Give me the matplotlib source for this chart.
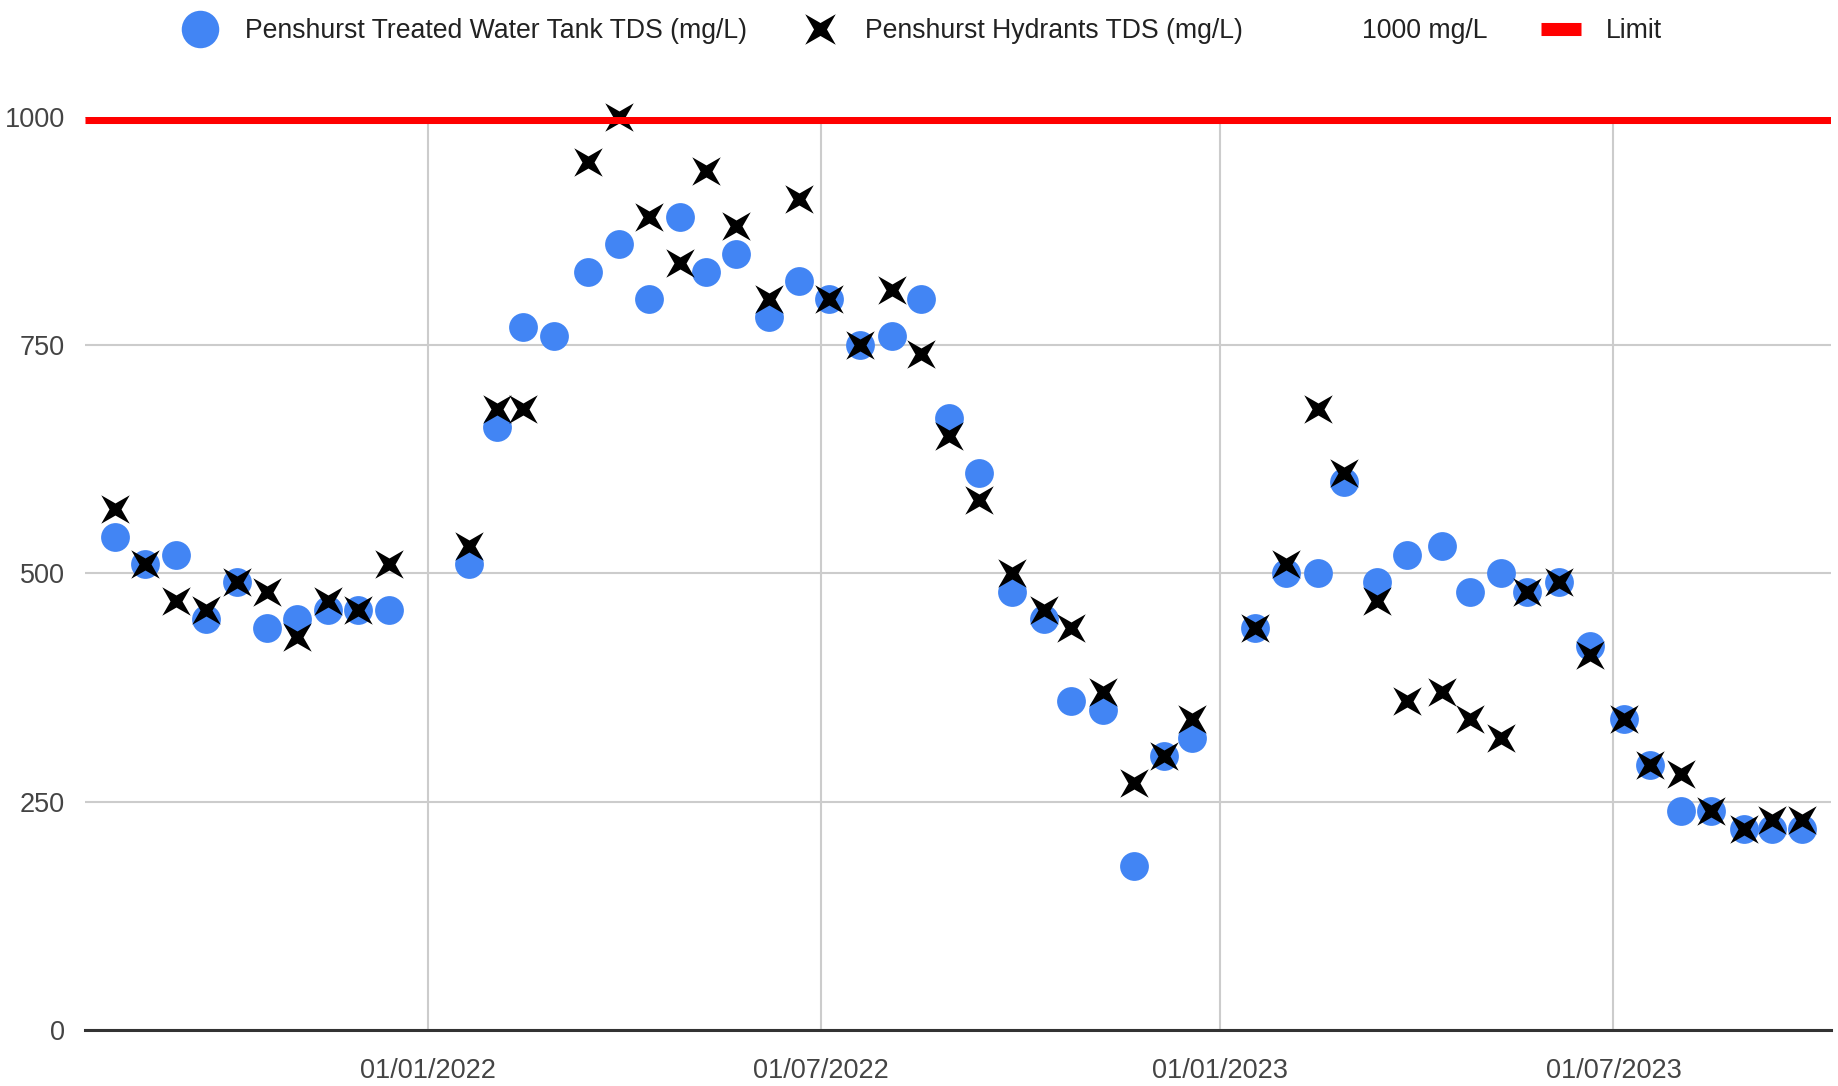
import numpy as np
import pandas as pd
import matplotlib
matplotlib.use("Agg")
import matplotlib.pyplot as plt
import matplotlib.dates as mdates
from matplotlib.path import Path
from matplotlib.lines import Line2D

plt.rcParams["font.family"] = ["Liberation Sans", "DejaVu Sans"]

dates = [
    "2021-08-10", "2021-08-24", "2021-09-07", "2021-09-21", "2021-10-05",
    "2021-10-19", "2021-11-02", "2021-11-16", "2021-11-30", "2021-12-14",
    "2022-01-20", "2022-02-02", "2022-02-14", "2022-02-28", "2022-03-16",
    "2022-03-30", "2022-04-13", "2022-04-27", "2022-05-09", "2022-05-23",
    "2022-06-07", "2022-06-21", "2022-07-05", "2022-07-19", "2022-08-03",
    "2022-08-16", "2022-08-29", "2022-09-12", "2022-09-27", "2022-10-12",
    "2022-10-24", "2022-11-08", "2022-11-22", "2022-12-06", "2022-12-19",
    "2023-01-17", "2023-01-31", "2023-02-15", "2023-02-27", "2023-03-14",
    "2023-03-28", "2023-04-13", "2023-04-26", "2023-05-10", "2023-05-22",
    "2023-06-06", "2023-06-20", "2023-07-06", "2023-07-18", "2023-08-01",
    "2023-08-15", "2023-08-30", "2023-09-12", "2023-09-26",
]
tank_tds = [
    540, 510, 520, 450, 490, 440, 450, 460, 460, 460,
    510, 660, 770, 760, 830, 860, 800, 890, 830, 850,
    780, 820, 800, 750, 760, 800, 670, 610, 480, 450,
    360, 350, 180, 300, 320,
    440, 500, 500, 600, 490, 520, 530, 480, 500, 480,
    490, 420, 340, 290, 240, 240, 220, 220, 220,
]
hydrant_tds = [
    570, 510, 470, 460, 490, 480, 430, 470, 460, 510,
    530, 680, 680, np.nan, 950, 1000, 890, 840, 940, 880,
    800, 910, 800, 750, 810, 740, 650, 580, 500, 460,
    440, 370, 270, 300, 340,
    440, 510, 680, 610, 470, 360, 370, 340, 320, 480,
    490, 410, 340, 290, 280, 240, 220, 230, 230,
]
limit_value = 1000
x_range = ["2021-07-27", "2023-10-09"]
x_ticks = ["2022-01-01", "2022-07-01", "2023-01-01", "2023-07-01"]
y_ticks = [0, 250, 500, 750, 1000]

series_names = ["Penshurst Treated Water Tank TDS (mg/L)",
                "Penshurst Hydrants TDS (mg/L)", "1000 mg/L", "Limit"]

x = pd.to_datetime(dates)

# four pointed star turned 45 deg, like the sheets "star" cross
r_in = 0.3
verts = []
for k in range(4):
    a_out = np.deg2rad(45 + 90 * k)
    a_in = np.deg2rad(90 + 90 * k)
    verts.append((np.cos(a_out), np.sin(a_out)))
    verts.append((r_in * np.cos(a_in), r_in * np.sin(a_in)))
verts.append(verts[0])
codes = [Path.MOVETO] + [Path.LINETO] * 7 + [Path.CLOSEPOLY]
cross = Path(verts, codes)

blue = "#4285f4"
red = "#ff0000"
grid_c = "#cccccc"

fig = plt.figure(figsize=(18.38, 10.86), dpi=100)
ax = fig.add_axes([0.046, 0.0516, 0.950, 0.8411])

ax.scatter(x, tank_tds, s=430, color=blue, marker="o", linewidths=0,
           zorder=3, clip_on=False)
ax.scatter(x, hydrant_tds, s=420, color="black", marker=cross, linewidths=0,
           zorder=4, clip_on=False)
ax.axhline(limit_value, color=red, lw=9.4, zorder=5, solid_capstyle="butt")

ax.set_xlim(pd.to_datetime(x_range[0]), pd.to_datetime(x_range[1]))
ax.set_ylim(0, 1000)
ax.set_xticks(pd.to_datetime(x_ticks))
ax.xaxis.set_major_formatter(mdates.DateFormatter("%d/%m/%Y"))
ax.set_yticks(y_ticks)

ax.grid(True, color=grid_c, lw=1.5, zorder=0)
ax.set_axisbelow(True)
for s in ["top", "right", "left"]:
    ax.spines[s].set_visible(False)
ax.spines["bottom"].set_color("#333333")
ax.spines["bottom"].set_linewidth(2.2)
ax.spines["bottom"].set_zorder(6)
ax.tick_params(axis="both", length=0, labelsize=19.5, colors="#444444")
ax.tick_params(axis="x", pad=20)
ax.tick_params(axis="y", pad=14)

handles = [
    Line2D([], [], ls="none", marker="o", ms=27, color=blue, mew=0),
    Line2D([], [], ls="none", marker=cross, ms=22, color="black", mew=0),
    Line2D([], [], ls="none", marker="s", ms=14, color="white", mew=0),
    Line2D([], [], ls="-", lw=9.4, color=red, solid_capstyle="butt"),
]
fig.legend(handles, series_names, loc="center", bbox_to_anchor=(0.501, 0.9715),
           ncol=4, frameon=False, fontsize=19.2, handlelength=1.5,
           handletextpad=0.94, columnspacing=2.0, labelcolor="#222222")

fig.savefig("out.png", dpi=100)
